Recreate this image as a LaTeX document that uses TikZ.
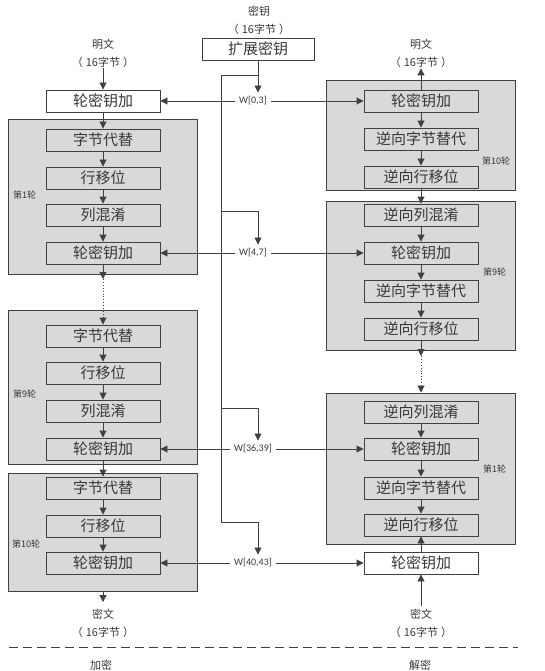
\documentclass[tikz,border=0pt]{standalone}
\usepackage{fontspec}
\setmainfont{Carlito}
\newfontfamily\cjk{Noto Sans CJK SC}
\usetikzlibrary{arrows.meta}
\definecolor{linegray}{HTML}{404040}
\definecolor{framegray}{HTML}{D9D9D9}
\definecolor{textgray}{HTML}{383838}
\newcommand{\bytes}{（\kern3pt 16字节\kern3pt ）}
\tikzset{
	wire/.style={draw=linegray, line width=0.9pt},
	arr/.style={wire, -{Triangle[length=7pt,width=7pt]}},
	stepbox/.style={draw=linegray, line width=0.9pt, minimum width=114pt, minimum height=22pt, inner sep=0pt, text=textgray, font=\cjk\fontsize{15}{15}\selectfont},
	roundframe/.style={draw=linegray, line width=0.9pt, fill=framegray, inner sep=0pt, minimum width=189pt},
	lbl/.style={align=center, text=textgray, font=\cjk\fontsize{11}{18}\selectfont, inner sep=1pt},
	wlbl/.style={text=textgray, font=\fontsize{10}{10}\selectfont, inner sep=4pt},
	rlbl/.style={anchor=west, text=textgray, font=\cjk\fontsize{9}{9}\selectfont, inner sep=0pt}
}

\begin{document}
\begin{tikzpicture}[x=1pt, y=-1pt]
		%%%%% START %%%%%
		\useasboundingbox (0,0) rectangle (544,671);
		
		% frames of the rounds
		\node[roundframe, minimum height=155pt] (F1) at (102.5,196.5) {};
		\node[roundframe, minimum height=154pt] (F9) at (102.5,387) {};
		\node[roundframe, minimum height=118pt] (F10) at (102.5,532) {};
		\node[roundframe, minimum height=110pt] (FR10) at (420.5,135) {};
		\node[roundframe, minimum height=149pt] (FR9) at (420.5,275.5) {};
		\node[roundframe, minimum height=151pt] (FR1) at (420.5,468.5) {};
		
		\node[rlbl] (n1) at (13,195) {第1轮};
		\node[rlbl] (n9) at (13,394) {第9轮};
		\node[rlbl] (n10) at (12,544) {第10轮};
		\node[rlbl] (m10) at (482,161) {第10轮};
		\node[rlbl] (m9) at (483,272) {第9轮};
		\node[rlbl] (m1) at (483,469) {第1轮};
		
		% key
		\node[lbl] (keyin) at (259,20) {密钥\\\bytes};
		\node[stepbox, fill=white, minimum width=112pt] (key) at (258,49) {扩展密钥};
		
		% encryption
		\node[lbl] (ptL) at (103,53) {明文\\\bytes};
		\node[stepbox, fill=white] (L0) at (103,101) {轮密钥加};
		\node[stepbox] (L1a) at (103,140) {字节代替};
		\node[stepbox] (L1b) at (103,178) {行移位};
		\node[stepbox] (L1c) at (103,215) {列混淆};
		\node[stepbox] (L1d) at (103,253) {轮密钥加};
		\node[stepbox] (L9a) at (103,336) {字节代替};
		\node[stepbox] (L9b) at (103,373) {行移位};
		\node[stepbox] (L9c) at (103,411) {列混淆};
		\node[stepbox] (L9d) at (103,449) {轮密钥加};
		\node[stepbox] (L10a) at (103,488) {字节代替};
		\node[stepbox] (L10b) at (103,526) {行移位};
		\node[stepbox] (L10c) at (103,563) {轮密钥加};
		\node[lbl] (ctL) at (103,623.5) {密文\\\bytes};
		
		% decryption
		\node[lbl] (ptR) at (421,53) {明文\\\bytes};
		\node[stepbox] (R10a) at (421,101) {轮密钥加};
		\node[stepbox] (R10b) at (421,139) {逆向字节替代};
		\node[stepbox] (R10c) at (421,177) {逆向行移位};
		\node[stepbox] (R9a) at (421,215) {逆向列混淆};
		\node[stepbox] (R9b) at (421,253) {轮密钥加};
		\node[stepbox] (R9c) at (421,291) {逆向字节替代};
		\node[stepbox] (R9d) at (421,329) {逆向行移位};
		\node[stepbox] (R1a) at (421,412) {逆向列混淆};
		\node[stepbox] (R1b) at (421,449) {轮密钥加};
		\node[stepbox] (R1c) at (421,488) {逆向字节替代};
		\node[stepbox] (R1d) at (421,525) {逆向行移位};
		\node[stepbox, fill=white] (R0) at (421,563) {轮密钥加};
		\node[lbl] (ctR) at (421,623.5) {密文\\\bytes};
		
		% round keys
		\node[wlbl] (W0) at (253,101) {W[0,3]};
		\node[wlbl] (W4) at (253,253) {W[4,7]};
		\node[wlbl] (W36) at (253,449) {W[36,39]};
		\node[wlbl] (W40) at (253,563) {W[40,43]};
		
		\coordinate (k1) at (221,75);
		\coordinate (k2) at (221,211);
		\coordinate (k3) at (221,408);
		\coordinate (k4) at (221,522);
		\draw[arr] (key) -- (key.south |- W0.north);
		\draw[wire] (key.south |- k1) -- (k1) -- (k4);
		\draw[arr] (k2) -| (key.south |- W4.north);
		\draw[arr] (k3) -| (key.south |- W36.north);
		\draw[arr] (k4) -| (key.south |- W40.north);
		
		\draw[arr] (W0) -- (L0);
		\draw[arr] (W0) -- (R10a);
		\draw[arr] (W4) -- (L1d);
		\draw[arr] (W4) -- (R9b);
		\draw[arr] (W36) -- (L9d);
		\draw[arr] (W36) -- (R1b);
		\draw[arr] (W40) -- (L10c);
		\draw[arr] (W40) -- (R0);
		
		% flow of encryption
		\draw[arr] (ptL) -- (L0);
		\draw[arr] (L0) -- (L1a);
		\draw[arr] (L1a) -- (L1b);
		\draw[arr] (L1b) -- (L1c);
		\draw[arr] (L1c) -- (L1d);
		\coordinate (dL) at (103,279);
		\draw[arr] (L1d) -- (dL);
		\draw[arr, dotted] (dL) -- (L9a);
		\draw[arr] (L9a) -- (L9b);
		\draw[arr] (L9b) -- (L9c);
		\draw[arr] (L9c) -- (L9d);
		\draw[arr] (L9d) -- (L10a);
		\draw[arr] (L10a) -- (L10b);
		\draw[arr] (L10b) -- (L10c);
		\draw[arr, shorten >=6pt] (F10.south -| L10c) -- (ctL);
		
		% flow of decryption
		\draw[arr, shorten <=2pt] (ctR) -- (R0);
		\draw[arr] (R0) -- (R1d);
		\draw[arr] (R10a) -- (ptR);
		\draw[arr] (R10a) -- (R10b);
		\draw[arr] (R10b) -- (R10c);
		\draw[arr] (R10c) -- (R9a);
		\draw[arr] (R9a) -- (R9b);
		\draw[arr] (R9b) -- (R9c);
		\draw[arr] (R9c) -- (R9d);
		\coordinate (dR) at (421,356);
		\draw[arr] (R9d) -- (dR);
		\draw[arr, dotted] (dR) -- (R1a |- FR1.north);
		\draw[arr] (R1a) -- (R1b);
		\draw[arr] (R1b) -- (R1c);
		\draw[arr] (R1c) -- (R1d);
		
		% split
		\draw[wire, dash pattern=on 9pt off 5pt] (9,647) -- (518,647);
		\node[lbl] (enc) at (101,665) {加密};
		\node[lbl] (dec) at (420,665) {解密};
		
		%%%%% END %%%%%
	\end{tikzpicture}
\end{document}
